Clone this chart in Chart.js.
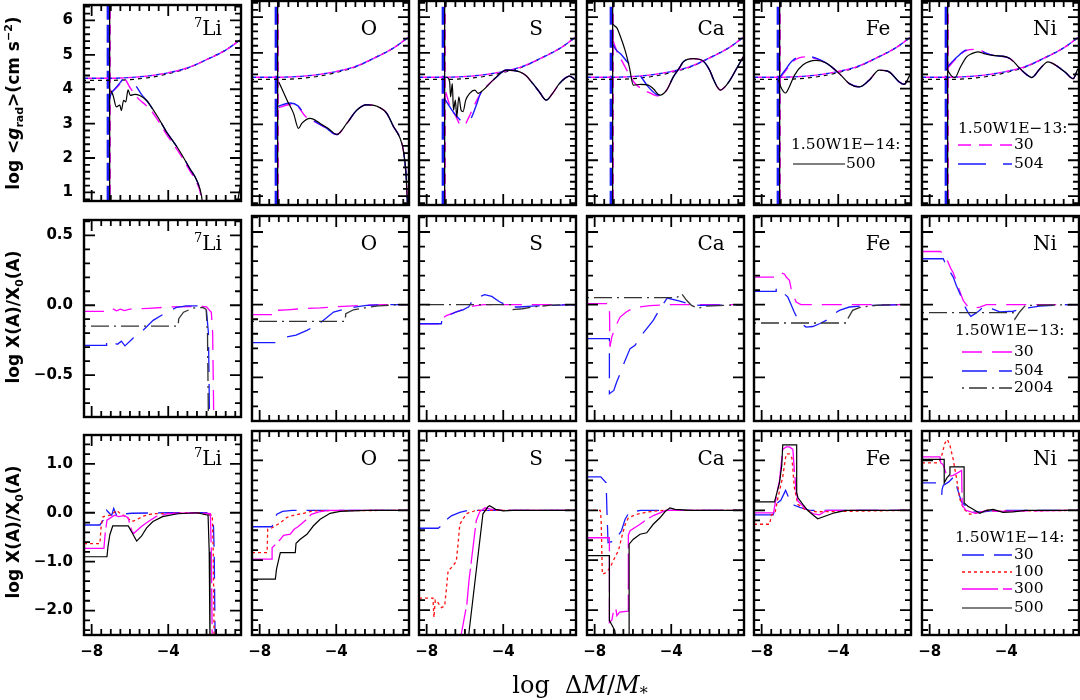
<!DOCTYPE html>
<html><head><meta charset="utf-8">
<script src="https://cdn.jsdelivr.net/npm/chart.js@4.4.1/dist/chart.umd.min.js"></script>
<style>
html,body{margin:0;padding:0;background:#fff}
#fig{position:relative;width:1080px;height:700px;overflow:hidden;background:#fff}
#fig canvas{position:absolute}
.el{position:absolute;font-family:'DejaVu Serif',serif;font-size:20px;line-height:1;transform:translate(-50%,-50%);white-space:nowrap;color:#000}
.el sup{font-size:13px;line-height:0}
.yt{position:absolute;font-family:'DejaVu Sans',sans-serif;font-weight:bold;font-size:17px;line-height:1;white-space:nowrap;transform:translate(-50%,-50%) rotate(-90deg);color:#000}
.yt sub,.yt sup{font-size:11px;line-height:0}
.xt{position:absolute;font-family:'DejaVu Serif',serif;font-size:24px;line-height:1;white-space:nowrap;transform:translate(-50%,-50%);color:#000}
.xt sub{font-size:16px;line-height:0}
</style></head>
<body><div id="fig"></div>
<script>
// ================= DATA =================
const elementNames = ['Li','O','S','Ca','Fe','Ni'];
const elementMass  = ['7','','','','',''];
const xTicks    = [-8,-4];
const topYTicks = [1,2,3,4,5,6];
const midYTicks = [-0.5,0,0.5];
const botYTicks = [-2,-1,0,1];

const topTitle14 = '1.50W1E\u221214:'; const topModels14 = ['500'];
const topTitle13 = '1.50W1E\u221213:'; const topModels13 = ['30','504'];
const midTitle   = '1.50W1E\u221213:'; const midModels   = ['30','504','2004'];
const botTitle   = '1.50W1E\u221214:'; const botModels   = ['30','100','300','500'];

// gravity (log g) curve, top row
const gravX   = [-8.4,-7.5,-7,-6,-5,-4,-3,-2,-1,-0.2];
const gravY30 = [4.32,4.32,4.32,4.34,4.39,4.48,4.62,4.86,5.14,5.45];
const gravY500= [4.26,4.26,4.26,4.28,4.34,4.45,4.61,4.86,5.14,5.45];
// vertical boundary lines (x) for models 30, 504, 500
const vlineX = [-7.04,-7.15,-7.06];

// ---- top row: log <g_rad> ----
const topLi30  = [[-7.0,3.9],[-6.6,4.1],[-6.3,4.3],[-6.0,4.05],[-5.6,3.75],[-5.2,3.55],[-4.95,3.42],[-4.52,3.08],[-4.08,2.68],[-3.7,2.38],[-3.39,2.12],[-2.86,1.62],[-2.52,1.3],[-2.28,0.85],[-2.22,0.5]];
const topLi504 = [[-7.12,3.6],[-7.0,3.85],[-6.8,4.0],[-6.5,4.2],[-6.3,4.32],[-6.0,4.25],[-5.7,4.1],[-5.4,3.85],[-5.14,3.68],[-4.95,3.54],[-4.52,3.17],[-4.08,2.75],[-3.7,2.45],[-3.39,2.19],[-2.86,1.68],[-2.52,1.36],[-2.26,0.89],[-2.2,0.6],[-2.17,0.4]];
const topLi500 = [[-7.0,3.96],[-6.88,3.82],[-6.71,3.49],[-6.53,3.54],[-6.45,3.38],[-6.33,3.68],[-6.22,3.63],[-6.1,3.98],[-5.98,3.82],[-5.75,3.85],[-5.49,3.82],[-5.14,3.68],[-4.95,3.54],[-4.52,3.17],[-4.08,2.75],[-3.7,2.45],[-3.39,2.19],[-2.86,1.68],[-2.52,1.36],[-2.26,0.89],[-2.2,0.6],[-2.17,0.4]];
const topLi500b= [[-0.45,0.5],[-0.2,1.3]];

const topO30  = [[-7.0,3.47],[-6.4,3.56],[-6.0,3.5],[-5.6,3.22],[-5.1,3.07],[-4.6,2.92],[-3.97,2.72],[-3.45,3.03],[-2.93,3.4],[-2.41,3.55],[-1.88,3.51],[-1.36,3.31],[-1.02,2.95],[-0.67,2.62],[-0.5,2.29],[-0.36,1.64],[-0.28,0.75],[-0.25,0.4]];
const topO504 = [[-7.1,3.5],[-6.4,3.6],[-6.0,3.52],[-5.6,3.24],[-5.1,3.08],[-4.6,2.93],[-3.97,2.72],[-3.45,3.03],[-2.93,3.4],[-2.41,3.55],[-1.88,3.51],[-1.36,3.31],[-1.02,2.95],[-0.67,2.62],[-0.5,2.29],[-0.36,1.64],[-0.28,0.75],[-0.25,0.4]];
const topO500 = [[-7.0,4.19],[-6.57,3.68],[-6.23,3.31],[-5.97,2.89],[-5.8,3.03],[-5.36,3.17],[-4.84,3.03],[-4.4,2.88],[-3.97,2.72],[-3.45,3.03],[-2.93,3.4],[-2.41,3.55],[-1.88,3.51],[-1.36,3.31],[-1.02,2.95],[-0.67,2.62],[-0.5,2.29],[-0.36,1.64],[-0.28,0.75],[-0.25,0.4]];

const topS30  = [[-7.0,3.9],[-6.8,3.55],[-6.5,3.25],[-6.2,2.98],[-6.0,3.0],[-5.8,3.2],[-5.5,3.55],[-5.2,3.85],[-4.8,4.1],[-4.4,4.3],[-3.84,4.52],[-3.14,4.47],[-2.8,4.36],[-2.45,4.14],[-2.1,3.9],[-1.76,3.68],[-1.45,3.85],[-1.07,4.14],[-0.75,4.3],[-0.55,4.35],[-0.35,4.3],[-0.2,4.22]];
const topS504 = [[-7.1,3.75],[-6.8,3.5],[-6.5,3.27],[-6.2,3.1],[-5.95,2.98],[-5.7,3.15],[-5.4,3.55],[-5.2,3.85],[-4.8,4.1],[-4.4,4.3],[-3.84,4.52],[-3.14,4.47],[-2.8,4.36],[-2.45,4.14],[-2.1,3.9],[-1.76,3.68],[-1.45,3.85],[-1.07,4.14],[-0.75,4.3],[-0.55,4.35],[-0.35,4.3],[-0.2,4.22]];
const topS500 = [[-6.96,4.33],[-6.8,4.19],[-6.75,3.77],[-6.66,4.14],[-6.6,3.4],[-6.5,3.68],[-6.43,3.21],[-6.32,3.77],[-6.2,3.4],[-6.1,3.36],[-5.96,3.68],[-5.75,3.87],[-5.49,3.96],[-5.31,3.87],[-5.05,3.96],[-4.53,4.24],[-3.84,4.52],[-3.14,4.47],[-2.8,4.36],[-2.45,4.14],[-2.1,3.9],[-1.76,3.68],[-1.45,3.85],[-1.07,4.14],[-0.75,4.3],[-0.55,4.35],[-0.35,4.3],[-0.2,4.22]];

const topCa30  = [[-7.05,5.35],[-6.8,5.0],[-6.5,4.7],[-6.2,4.4],[-5.9,4.15],[-5.5,3.98],[-5.1,3.88],[-4.75,3.8],[-4.59,3.8],[-4.24,3.96],[-3.89,4.33],[-3.55,4.6],[-3.37,4.75],[-2.85,4.84],[-2.33,4.77],[-1.98,4.5],[-1.81,4.28],[-1.6,4.05],[-1.43,3.96],[-1.2,4.05],[-0.93,4.24],[-0.6,4.55],[-0.24,4.89]];
const topCa504 = [[-7.12,5.3],[-6.9,5.1],[-6.6,4.95],[-6.3,4.75],[-6.0,4.6],[-5.6,4.35],[-5.2,4.05],[-4.8,3.85],[-4.59,3.82],[-4.24,3.96],[-3.89,4.33],[-3.55,4.6],[-3.37,4.75],[-2.85,4.84],[-2.33,4.77],[-1.98,4.5],[-1.81,4.28],[-1.6,4.05],[-1.43,3.96],[-1.2,4.05],[-0.93,4.24],[-0.6,4.55],[-0.24,4.89]];
const topCa500 = [[-7.07,5.82],[-6.95,5.75],[-6.84,5.7],[-6.65,5.45],[-6.41,5.07],[-6.19,4.61],[-5.98,4.1],[-5.6,4.12],[-5.2,4.1],[-4.94,4.0],[-4.59,3.82],[-4.24,3.96],[-3.89,4.33],[-3.55,4.6],[-3.37,4.75],[-2.85,4.84],[-2.33,4.77],[-1.98,4.5],[-1.81,4.28],[-1.6,4.05],[-1.43,3.96],[-1.2,4.05],[-0.93,4.24],[-0.6,4.55],[-0.24,4.89]];

const topFe30  = [[-7.04,4.3],[-6.72,4.52],[-6.3,4.79],[-5.68,4.89],[-5.16,4.84],[-4.64,4.72],[-3.94,4.42],[-3.42,4.14],[-2.9,4.05],[-2.38,4.24],[-1.86,4.52],[-1.34,4.47],[-0.82,4.19],[-0.56,4.12],[-0.26,4.38]];
const topFe504 = [[-7.15,4.25],[-6.8,4.5],[-6.4,4.78],[-5.8,4.92],[-5.2,4.86],[-4.64,4.72],[-3.94,4.42],[-3.42,4.14],[-2.9,4.05],[-2.38,4.24],[-1.86,4.52],[-1.34,4.47],[-0.82,4.19],[-0.56,4.12],[-0.26,4.38]];
const topFe500 = [[-7.12,4.24],[-7.0,4.05],[-6.75,3.88],[-6.54,4.07],[-6.28,4.38],[-5.85,4.66],[-5.16,4.79],[-4.64,4.72],[-3.94,4.42],[-3.42,4.14],[-2.9,4.05],[-2.38,4.24],[-1.86,4.52],[-1.34,4.47],[-0.82,4.19],[-0.56,4.12],[-0.26,4.38]];

const topNi30  = [[-7.08,4.56],[-6.6,4.85],[-6.07,5.07],[-5.48,5.1],[-5.1,5.0],[-4.69,4.93],[-3.91,4.87],[-3.6,4.75],[-3.28,4.56],[-2.95,4.4],[-2.67,4.31],[-2.25,4.55],[-1.82,4.75],[-1.4,4.65],[-0.9,4.45],[-0.51,4.28],[-0.26,4.56]];
const topNi504 = [[-7.15,4.56],[-6.6,4.87],[-6.07,5.08],[-5.48,5.1],[-5.1,5.0],[-4.69,4.93],[-3.91,4.87],[-3.6,4.75],[-3.28,4.56],[-2.95,4.4],[-2.67,4.31],[-2.25,4.55],[-1.82,4.75],[-1.4,4.65],[-0.9,4.45],[-0.51,4.28],[-0.26,4.56]];
const topNi500 = [[-7.11,4.56],[-6.95,4.42],[-6.85,4.35],[-6.68,4.31],[-6.4,4.6],[-6.07,4.89],[-5.8,4.98],[-5.48,5.03],[-5.1,4.97],[-4.69,4.93],[-3.91,4.87],[-3.6,4.75],[-3.28,4.56],[-2.95,4.4],[-2.67,4.31],[-2.25,4.55],[-1.82,4.75],[-1.4,4.65],[-0.9,4.45],[-0.51,4.28],[-0.26,4.56]];

// ---- middle row: log X/X0, 1.50W1E-13 ----
const midLi30   = [[-8.4,-0.044],[-7.22,-0.044],[-7.15,-0.03],[-6.9,-0.025],[-6.7,-0.04],[-6.5,-0.028],[-6.3,-0.038],[-6.0,-0.028],[-5.0,-0.022],[-4.0,-0.013],[-2.36,-0.008],[-2.0,-0.012],[-1.75,-0.05],[-1.68,-0.2],[-1.62,-0.85]];
const midLi504  = [[-8.4,-0.287],[-7.22,-0.287],[-7.22,-0.252],[-6.65,-0.28],[-6.45,-0.257],[-6.26,-0.291],[-5.83,-0.234],[-5.3,-0.177],[-4.79,-0.108],[-4.09,-0.051],[-3.57,-0.016],[-3.05,-0.005],[-2.36,-0.005],[-2.02,-0.012],[-1.9,-0.2],[-1.84,-0.85]];
const midLi2004 = [[-8.4,-0.149],[-3.49,-0.149],[-3.45,-0.096],[-3.2,-0.05],[-2.7,-0.02],[-2.2,-0.016],[-2.02,-0.03],[-1.95,-0.2],[-1.9,-0.85]];

const midO30   = [[-8.4,-0.069],[-7.18,-0.069],[-7.16,-0.039],[-6.57,-0.035],[-5.8,-0.028],[-4.84,-0.022],[-4.14,-0.015],[-3.1,-0.008],[-2.41,-0.004],[-1.5,0],[-0.2,0]];
const midO504  = [[-8.4,-0.261],[-7.18,-0.261],[-7.0,null],[-6.57,-0.222],[-6.1,-0.21],[-5.53,-0.177],[-4.84,-0.125],[-4.14,-0.051],[-3.4,-0.025],[-2.7,-0.01],[-2.41,-0.005],[-1.5,0],[-0.2,0]];
const midO2004 = [[-8.4,-0.115],[-3.54,-0.115],[-3.5,-0.062],[-3.1,-0.035],[-2.41,-0.02],[-1.8,-0.008],[-1.0,-0.002],[-0.2,0]];

const midS30   = [[-8.4,-0.131],[-7.23,-0.131],[-7.2,-0.096],[-6.97,-0.075],[-6.45,-0.05],[-6.1,-0.032],[-5.58,-0.01],[-5.0,0],[-0.2,0]];
const midS504  = [[-8.4,-0.131],[-7.23,-0.131],[-7.2,-0.096],[-6.97,-0.08],[-6.45,-0.05],[-6.1,-0.035],[-5.8,-0.015],[-5.58,0.034],[-5.2,0.057],[-4.97,0.069],[-4.6,0.057],[-4.2,0.02],[-3.8,-0.005],[-3.6,-0.016],[-3.2,-0.016],[-2.5,-0.01],[-1.4,-0.005],[-0.2,0]];
const midS2004 = [[-8.4,0],[-3.6,0],[-3.5,-0.034],[-3.0,-0.028],[-2.4,-0.015],[-1.5,-0.003],[-0.2,0]];

const midCa30   = [[-8.4,0.007],[-7.23,0.007],[-7.2,-0.29],[-7.1,-0.22],[-6.88,-0.142],[-6.67,-0.085],[-6.35,-0.05],[-6.06,-0.028],[-5.72,-0.016],[-5.11,-0.007],[-4.24,0],[-0.2,0]];
const midCa504  = [[-8.4,-0.234],[-7.23,-0.234],[-7.23,-0.612],[-7.0,-0.59],[-6.85,-0.532],[-6.67,-0.474],[-6.41,-0.383],[-6.15,-0.302],[-5.89,-0.28],[-5.63,-0.222],[-5.28,-0.165],[-4.94,-0.108],[-4.59,-0.028],[-4.21,0.046],[-3.55,0.025],[-2.94,0],[-2.5,-0.005],[-0.2,0]];
const midCa2004 = [[-8.4,0.048],[-3.72,0.048],[-3.46,0.076],[-3.2,0.03],[-2.94,-0.005],[-2.6,-0.025],[-2.2,-0.01],[-0.2,0]];

const midFe30   = [[-8.4,0.19],[-7.24,0.19],[-7.16,0.21],[-7.0,0.22],[-6.8,0.21],[-6.72,0.19],[-6.55,0.167],[-6.46,0.11],[-6.3,0.052],[-6.2,0.018],[-5.95,0],[-0.2,0]];
const midFe504  = [[-8.4,0.091],[-7.24,0.091],[-7.24,0.117],[-6.9,0.085],[-6.63,0.052],[-6.46,0],[-6.3,-0.05],[-6.17,-0.085],[-6.03,-0.12],[-5.68,-0.154],[-5.33,-0.15],[-4.98,-0.131],[-4.63,-0.108],[-4.29,-0.07],[-3.94,-0.039],[-3.42,-0.016],[-2.5,-0.005],[-0.2,0]];
const midFe2004 = [[-8.4,-0.126],[-3.59,-0.126],[-3.5,-0.096],[-3.25,-0.039],[-2.9,-0.02],[-2.4,-0.01],[-1.9,-0.003],[-0.2,0]];

const midNi30   = [[-8.4,0.366],[-7.43,0.366],[-7.29,0.35],[-7.1,0.31],[-6.9,0.25],[-6.77,0.22],[-6.6,0.16],[-6.45,0.1],[-6.25,0.03],[-5.99,-0.016],[-5.73,-0.025],[-5.38,-0.016],[-5.03,0],[-0.2,0]];
const midNi504  = [[-8.4,0.316],[-7.29,0.316],[-7.2,0.29],[-7.0,0.24],[-6.77,0.19],[-6.6,0.13],[-6.4,0.07],[-6.25,0.01],[-6.0,-0.053],[-5.85,-0.08],[-5.6,-0.06],[-5.4,-0.04],[-5.2,-0.016],[-5.03,-0.005],[-4.7,-0.03],[-4.34,-0.05],[-3.64,-0.045],[-3.0,-0.025],[-2.25,-0.01],[-0.86,0],[-0.2,0]];
const midNi2004 = [[-8.4,-0.055],[-3.64,-0.055],[-3.55,-0.1],[-3.3,-0.05],[-3.0,-0.005],[-0.2,0]];

// ---- bottom row: log X/X0, 1.50W1E-14 ----
const botLi30  = [[-8.4,-0.25],[-7.57,-0.25],[-7.4,-0.15],[-7.22,0.05],[-7.05,-0.02],[-6.95,-0.05],[-6.85,0.09],[-6.7,-0.05],[-6.6,-0.02],[-6.45,0],[-6.2,-0.02],[-5.9,-0.01],[-4.0,0],[-2.0,0],[-1.65,-0.1],[-1.6,-0.8],[-1.55,-2.7]];
const botLi100 = [[-8.4,-0.63],[-7.57,-0.63],[-7.5,-0.25],[-7.4,-0.08],[-7.0,-0.05],[-6.7,0.05],[-6.5,-0.02],[-6.2,-0.08],[-5.9,-0.18],[-5.7,-0.15],[-5.3,-0.07],[-4.8,-0.02],[-2.5,0],[-1.7,-0.05],[-1.65,-0.8],[-1.6,-2.7]];
const botLi300 = [[-8.4,-0.73],[-7.36,-0.73],[-7.3,-0.45],[-7.2,-0.15],[-7.0,-0.1],[-6.8,-0.05],[-6.6,-0.08],[-6.3,-0.06],[-6.1,-0.1],[-5.9,-0.38],[-5.8,-0.42],[-5.4,-0.28],[-5.0,-0.17],[-4.6,-0.07],[-4.0,-0.02],[-2.5,0],[-1.8,-0.02],[-1.75,-0.8],[-1.7,-2.7]];
const botLi500 = [[-8.4,-0.9],[-7.2,-0.9],[-7.15,-0.7],[-7.05,-0.45],[-6.9,-0.27],[-6.09,-0.27],[-5.9,-0.4],[-5.65,-0.58],[-5.4,-0.48],[-5.13,-0.31],[-4.8,-0.18],[-4.3,-0.08],[-3.5,-0.02],[-2.5,0],[-1.92,-0.05],[-1.86,-0.8],[-1.82,-2.7]];

const botO30  = [[-8.4,-0.33],[-7.35,-0.33],[-7.25,-0.18],[-7.1,-0.08],[-6.8,-0.02],[-6.3,0],[-0.2,0]];
const botO100 = [[-8.4,-0.85],[-7.61,-0.85],[-7.58,-0.38],[-7.35,-0.35],[-6.92,-0.25],[-6.57,-0.14],[-6.23,-0.1],[-5.7,-0.06],[-5.2,-0.01],[-0.2,0]];
const botO300 = [[-8.4,-0.98],[-7.35,-0.98],[-7.35,-0.75],[-7.0,-0.62],[-6.75,-0.5],[-6.4,-0.48],[-6.2,-0.38],[-6.0,-0.33],[-5.6,-0.2],[-5.3,-0.08],[-4.9,-0.03],[-4.4,0],[-0.2,0]];
const botO500 = [[-8.4,-1.38],[-7.18,-1.38],[-7.12,-1.18],[-7.0,-0.98],[-6.92,-0.85],[-6.14,-0.85],[-6.1,-0.66],[-5.88,-0.58],[-5.53,-0.48],[-5.19,-0.31],[-4.84,-0.18],[-4.32,-0.06],[-3.8,-0.02],[-2.5,0],[-0.2,0]];

const botS30  = [[-8.4,-0.36],[-7.4,-0.36],[-7.2,-0.3],[-7.06,-0.22],[-6.71,-0.11],[-6.27,-0.04],[-5.85,0],[-0.2,0]];
const botS100 = [[-8.4,-1.76],[-7.67,-1.76],[-7.62,-2.15],[-7.55,-1.8],[-7.41,-1.85],[-7.23,-1.95],[-7.06,-1.92],[-6.95,-1.5],[-6.88,-1.21],[-6.71,-1.15],[-6.5,-1.05],[-6.45,-1.01],[-6.36,-0.68],[-6.27,-0.28],[-5.93,-0.07],[-5.41,0],[-0.2,0]];
const botS300 = [[-6.25,-2.7],[-6.19,-2.48],[-5.9,-1.88],[-5.79,-1.41],[-5.41,-0.21],[-5.23,-0.03],[-4.95,0.05],[-4.6,0.02],[-4.0,0],[-0.2,0]];
const botS500 = [[-5.82,-2.7],[-5.79,-2.45],[-5.06,-0.07],[-4.8,0.07],[-4.71,0.09],[-4.4,0.02],[-4.0,-0.01],[-3.5,0],[-0.2,0]];

const botCa30  = [[-8.4,0.67],[-7.68,0.67],[-7.4,0.55],[-7.36,0],[-7.3,-0.65],[-7.1,-0.63],[-6.84,-0.55],[-6.6,-0.41],[-6.41,-0.18],[-6.24,-0.07],[-6.0,-0.03],[-5.6,0],[-0.2,0]];
const botCa100 = [[-8.4,0],[-7.71,0],[-7.66,-0.2],[-7.6,-1.28],[-7.4,-1.25],[-7.2,-1.15],[-6.95,-0.95],[-6.75,-0.8],[-6.55,-0.48],[-6.4,-0.28],[-6.24,-0.15],[-5.8,-0.08],[-5.2,-0.03],[-4.4,0],[-0.2,0]];
const botCa300 = [[-8.4,-0.55],[-7.23,-0.55],[-7.23,-2.25],[-7.1,-2.2],[-7.0,-1.99],[-6.88,-2.0],[-6.84,-2.11],[-6.7,-2.04],[-6.24,-2.02],[-6.24,-0.5],[-6.15,-0.41],[-5.63,-0.28],[-5.28,-0.18],[-4.9,-0.1],[-4.59,-0.05],[-4.3,0],[-0.2,0]];
const botCa500 = [[-8.4,-0.91],[-7.23,-0.91],[-7.23,-2.21],[-7.1,-2.3],[-6.95,-2.41],[-6.8,-2.8],[-6.2,-2.8],[-6.2,-0.68],[-5.98,-0.58],[-5.63,-0.48],[-5.28,-0.45],[-4.94,-0.28],[-4.59,-0.15],[-4.33,-0.03],[-4.07,0.05],[-3.8,0.02],[-3.0,0],[-0.2,0]];

const botFe30  = [[-8.4,-0.09],[-7.4,-0.09],[-7.3,0.02],[-7.24,0.13],[-7.0,0.2],[-6.75,0.4],[-6.55,0.22],[-6.3,0.1],[-6.0,0.06],[-5.5,0],[-0.2,0]];
const botFe100 = [[-8.4,-0.28],[-7.58,-0.28],[-7.5,-0.1],[-7.3,-0.05],[-7.15,0.25],[-6.9,0.67],[-6.72,1.13],[-6.55,1.13],[-6.42,1.05],[-6.29,0.45],[-6.11,0.12],[-5.68,0],[-5.1,-0.03],[-0.2,0]];
const botFe300 = [[-8.4,-0.05],[-7.38,-0.05],[-7.2,0.35],[-7.07,0.59],[-6.9,1.22],[-6.72,1.27],[-6.55,1.27],[-6.37,1.22],[-6.29,0.79],[-6.2,0.4],[-6.11,0.19],[-5.68,0.02],[-5.3,-0.07],[-4.98,-0.09],[-4.6,0],[-0.2,0]];
const botFe500 = [[-8.4,0.17],[-7.33,0.17],[-7.24,0.3],[-7.07,0.55],[-6.95,0.9],[-6.9,1.31],[-6.17,1.31],[-6.17,0.35],[-6.1,0.25],[-5.85,0.12],[-5.6,0],[-5.3,-0.1],[-5.07,-0.17],[-4.7,-0.12],[-4.2,-0.05],[-3.59,0],[-0.2,0]];

const botNi30  = [[-8.4,0.55],[-7.67,0.55],[-7.5,null],[-7.37,0.31],[-7.35,0.42],[-7.29,0.5],[-7.0,0.57],[-6.77,0.66],[-6.6,0.5],[-6.51,0.38],[-6.34,0.17],[-6.0,0.04],[-5.73,-0.03],[-5.2,-0.03],[-4.5,0],[-0.2,0]];
const botNi100 = [[-8.4,0.95],[-7.67,0.95],[-7.5,0.97],[-7.37,1.1],[-7.2,1.35],[-7.07,1.42],[-6.94,1.3],[-6.77,1.02],[-6.6,0.65],[-6.42,0.22],[-6.2,0.02],[-5.9,-0.08],[-5.5,-0.05],[-5.0,0],[-4.5,-0.02],[-0.2,0]];
const botNi300 = [[-8.4,1.07],[-7.46,1.07],[-7.42,0.95],[-7.3,0.92],[-7.15,0.75],[-7.0,0.68],[-6.77,0.7],[-6.45,0.77],[-6.33,0.8],[-6.3,0.1],[-6.1,0.0],[-5.6,-0.06],[-5.0,0],[-4.5,-0.02],[-0.2,0]];
const botNi500 = [[-8.4,1.02],[-7.24,1.02],[-7.24,0.55],[-7.1,0.65],[-6.94,0.72],[-6.94,0.87],[-6.2,0.87],[-6.2,0.15],[-6.0,0.08],[-5.73,0.02],[-5.38,-0.06],[-5.03,0],[-4.69,0.02],[-4.17,-0.04],[-3.64,-0.03],[-3.0,0],[-0.2,0]];

// ================= LAYOUT & STYLE =================
const PX = [84,252,419,587,754,922];      // panel left edges
const PW = 157;
const PY = [1,216,431];                   // panel tops
const PH = [204,205,204];
const XMIN = -8.4, XMAX = -0.2;
const ROWS = [
  {min:0.75, max:6.45, ticks:topYTicks, minor:0.2, major:1,   dec:0},
  {min:-0.8, max:0.61, ticks:midYTicks, minor:0.1, major:0.5, dec:1},
  {min:-2.5, max:1.59, ticks:botYTicks, minor:0.2, major:1,   dec:1}
];
const labelDX = [124,117,117,124,124,123];
const MAG='#ff00ff', BLU='#1a1aff', RED='#ff1010', BLK='#000000';
const ST = {
  t30:{c:MAG,d:[13,8],w:1.4}, t504:{c:BLU,d:[28,17],w:1.4}, t500:{c:BLK,d:[],w:1.2},
  g30:{c:MAG,d:[4,4],w:1.4,o:4}, g504:{c:BLU,d:[4,4],w:1.4,o:0}, g500:{c:BLK,d:[4,4],w:1.2,o:2},
  v30:{c:MAG,d:[10,6],w:1.5}, v504:{c:BLU,d:[18,5],w:2.6}, v500:{c:BLK,d:[],w:1.3},
  m30:{c:MAG,d:[20,10],w:1.3}, m504:{c:BLU,d:[25,12],w:1.3}, m2004:{c:'#333333',d:[2,5,18,5],w:1.3},
  b30:{c:BLU,d:[22,10],w:1.3}, b100:{c:RED,d:[3,3],w:1.3}, b300:{c:MAG,d:[36,5],w:1.3}, b500:{c:BLK,d:[],w:1.2}
};

function fmt(v,dec){ let s = v.toFixed(dec); if (Math.abs(v)<1e-9) s=(0).toFixed(dec); return v<-1e-9 ? '\u2212'+s.slice(1) : s; }
const pts = arr => arr.map(p => ({x:p[0], y:p[1]}));
function ds(arr, st, smooth){
  return {data:pts(arr), borderColor:st.c, borderWidth:st.w, borderDash:st.d, borderDashOffset:st.o||0,
    pointRadius:0, fill:false, tension:0, cubicInterpolationMode: smooth?'monotone':'default', spanGaps:false};
}

const framePlugin = {
  id:'panelFrame',
  afterDatasetsDraw(chart, args, o){
    const {ctx, chartArea:a} = chart; const xs = chart.scales.x, ys = chart.scales.y;
    ctx.save(); ctx.setLineDash([]); ctx.strokeStyle='#000'; ctx.lineWidth=1.8;
    const each = (min,max,minor,major,cb)=>{
      const k0=Math.ceil(min/minor-1e-9), k1=Math.floor(max/minor+1e-9);
      for(let k=k0;k<=k1;k++){ const v=k*minor; const mj=Math.abs(v/major-Math.round(v/major))<1e-6; cb(v, mj?11:6); }
    };
    ctx.beginPath();
    each(xs.min,xs.max,0.5,4,(v,len)=>{ const p=xs.getPixelForValue(v); ctx.moveTo(p,a.bottom); ctx.lineTo(p,a.bottom-len); ctx.moveTo(p,a.top); ctx.lineTo(p,a.top+len); });
    each(ys.min,ys.max,o.minor,o.major,(v,len)=>{ const p=ys.getPixelForValue(v); ctx.moveTo(a.left,p); ctx.lineTo(a.left+len,p); ctx.moveTo(a.right,p); ctx.lineTo(a.right-len,p); });
    ctx.stroke();
    ctx.lineWidth=2.4; ctx.strokeRect(a.left,a.top,a.right-a.left,a.bottom-a.top);
    ctx.restore();
  }
};
const legendPlugin = {
  id:'panelLegend',
  afterDatasetsDraw(chart, args, o){
    if(!o || !o.title) return;
    const {ctx, chartArea:a} = chart;
    ctx.save(); ctx.font='15.5px "DejaVu Serif"'; ctx.fillStyle='#000'; ctx.textBaseline='middle'; ctx.textAlign='left';
    ctx.fillText(o.title, a.left+o.tx, a.top+o.ty);
    for(const it of o.items){
      ctx.beginPath(); ctx.setLineDash(it.st.d); ctx.strokeStyle=it.st.c; ctx.lineWidth=it.st.w;
      ctx.moveTo(a.left+o.lx0, a.top+it.y); ctx.lineTo(a.left+o.lx1, a.top+it.y); ctx.stroke();
      ctx.setLineDash([]); ctx.fillText(it.label, a.left+o.textX, a.top+it.y);
    }
    ctx.restore();
  }
};

const fig = document.getElementById('fig');
function makePanel(row, col, datasets, legend){
  const L=PX[col], T=PY[row], W=PW, H=PH[row], rc=ROWS[row];
  const Lm = col===0 ? L : 16, Rm = 16, Tm = 16, Bm = row===2 ? 50 : 16;
  const cw=W+Lm+Rm, ch=H+Tm+Bm;
  const cv=document.createElement('canvas');
  cv.width=cw; cv.height=ch;
  cv.style.left=(L-Lm)+'px'; cv.style.top=(T-Tm)+'px'; cv.style.width=cw+'px'; cv.style.height=ch+'px';
  fig.appendChild(cv);
  const tickFont={family:'DejaVu Sans', size:15, weight:'bold'};
  new Chart(cv,{
    type:'line',
    data:{datasets},
    options:{
      responsive:false, animation:false, events:[],
      layout:{padding:{left:0,right:Rm,top:Tm,bottom:0}},
      plugins:{legend:{display:false}, tooltip:{enabled:false},
        panelFrame:{minor:rc.minor, major:rc.major}, panelLegend: legend || false},
      scales:{
        x:{type:'linear', min:XMIN, max:XMAX, grid:{display:false, drawTicks:false}, border:{display:false},
          ticks:{display:row===2, autoSkip:false, maxRotation:0, minRotation:0, padding:8, color:'#000', font:tickFont, callback:v=>fmt(v,0)},
          afterBuildTicks:s=>{ s.ticks = xTicks.map(v=>({value:v})); },
          afterFit:s=>{ s.height=Bm; }},
        y:{type:'linear', min:rc.min, max:rc.max, grid:{display:false, drawTicks:false}, border:{display:false},
          ticks:{display:col===0, autoSkip:false, padding:11, color:'#000', font:tickFont, callback:v=>fmt(v,rc.dec)},
          afterBuildTicks:s=>{ s.ticks = rc.ticks.map(v=>({value:v})); },
          afterFit:s=>{ s.width=Lm; }}
      }
    },
    plugins:[framePlugin, legendPlugin]
  });
  const lab=document.createElement('div'); lab.className='el';
  lab.innerHTML=(elementMass[col]?'<sup>'+elementMass[col]+'</sup>':'')+elementNames[col];
  lab.style.left=(L+labelDX[col])+'px'; lab.style.top=(T+27)+'px';
  fig.appendChild(lab);
}

// ---- top row ----
const topSets = [
  [topLi30,topLi504,topLi500,topLi500b],
  [topO30,topO504,topO500],
  [topS30,topS504,topS500],
  [topCa30,topCa504,topCa500],
  [topFe30,topFe504,topFe500],
  [topNi30,topNi504,topNi500]
];
const gravPts = ys => gravX.map((x,i)=>[x, ys[i]]);
topSets.forEach((s,col)=>{
  const d=[];
  d.push(ds([[vlineX[2],0],[vlineX[2],7]], ST.v500));
  d.push(ds(s[2], ST.t500, true));
  if (s[3]) d.push(ds(s[3], ST.t500, true));
  d.push(ds(s[1], ST.t504, true));
  d.push(ds(s[0], ST.t30, true));
  d.push(ds(gravPts(gravY30), ST.g30, true));
  d.push(ds(gravPts(gravY30), ST.g504, true));
  d.push(ds(gravPts(gravY500), ST.g500, true));
  d.push(ds([[vlineX[0],0],[vlineX[0],7]], ST.v30));
  d.push(ds([[vlineX[1],0],[vlineX[1],7]], ST.v504));
  let leg=null;
  if (col===4) leg={title:topTitle14, tx:37, ty:144, lx0:39, lx1:91, textX:92, items:[{label:topModels14[0], st:ST.t500, y:163}]};
  if (col===5) leg={title:topTitle13, tx:36, ty:128, lx0:36, lx1:90, textX:92, items:[{label:topModels13[0], st:ST.t30, y:144},{label:topModels13[1], st:ST.t504, y:163}]};
  makePanel(0,col,d,leg);
});

// ---- middle row ----
const midSets = [
  [midLi30,midLi504,midLi2004],[midO30,midO504,midO2004],[midS30,midS504,midS2004],
  [midCa30,midCa504,midCa2004],[midFe30,midFe504,midFe2004],[midNi30,midNi504,midNi2004]
];
midSets.forEach((s,col)=>{
  const d=[ds(s[2],ST.m2004), ds(s[1],ST.m504), ds(s[0],ST.m30)];
  let leg=null;
  if (col===5) leg={title:midTitle, tx:33, ty:115, lx0:40, lx1:90, textX:92,
    items:[{label:midModels[0],st:ST.m30,y:136},{label:midModels[1],st:ST.m504,y:155},{label:midModels[2],st:ST.m2004,y:172}]};
  makePanel(1,col,d,leg);
});

// ---- bottom row ----
const botSets = [
  [botLi30,botLi100,botLi300,botLi500],[botO30,botO100,botO300,botO500],[botS30,botS100,botS300,botS500],
  [botCa30,botCa100,botCa300,botCa500],[botFe30,botFe100,botFe300,botFe500],[botNi30,botNi100,botNi300,botNi500]
];
botSets.forEach((s,col)=>{
  const d=[ds(s[3],ST.b500), ds(s[2],ST.b300), ds(s[1],ST.b100), ds(s[0],ST.b30)];
  let leg=null;
  if (col===5) leg={title:botTitle, tx:33, ty:107, lx0:40, lx1:90, textX:92,
    items:[{label:botModels[0],st:ST.b30,y:124},{label:botModels[1],st:ST.b100,y:141},{label:botModels[2],st:ST.b300,y:158},{label:botModels[3],st:ST.b500,y:177}]};
  makePanel(2,col,d,leg);
});

// ---- axis titles ----
function addDiv(cls, html, x, y){ const e=document.createElement('div'); e.className=cls; e.innerHTML=html; e.style.left=x+'px'; e.style.top=y+'px'; fig.appendChild(e); }
addDiv('yt','log &lt;<i>g</i><sub>rad</sub>&gt;(cm s<sup>\u22122</sup>)',13,103);
addDiv('yt','log X(A)/X<sub>0</sub>(A)',13,317);
addDiv('yt','log X(A)/X<sub>0</sub>(A)',13,532);
addDiv('xt','log&nbsp; \u0394<i>M</i>/<i>M</i><sub>*</sub>',580,685);
</script>
</body></html>
